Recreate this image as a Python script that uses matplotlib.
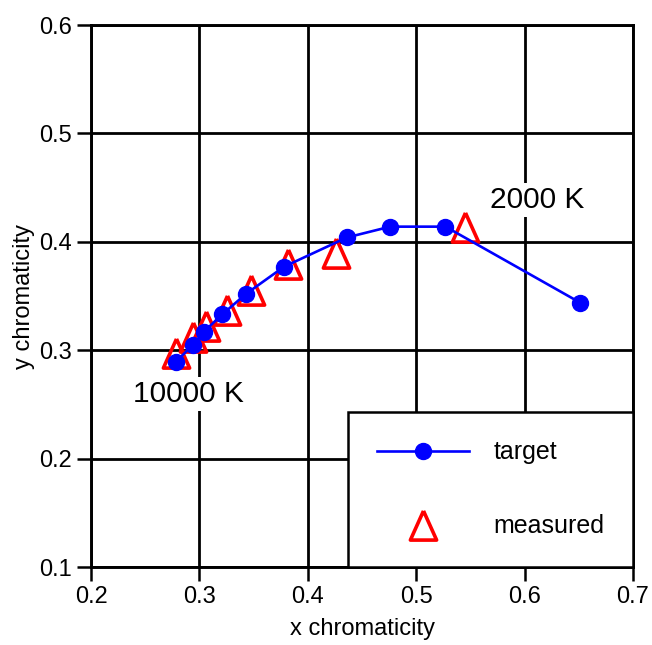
import matplotlib.pyplot as plt
from matplotlib.lines import Line2D

plt.rcParams['font.family'] = ['Liberation Sans', 'DejaVu Sans']

# target chromaticity (blackbody locus, 10000 K -> 2000 K)
target_x = [0.278, 0.294, 0.304, 0.321, 0.343, 0.378, 0.436, 0.476, 0.527, 0.651]
target_y = [0.289, 0.305, 0.317, 0.333, 0.352, 0.377, 0.404, 0.414, 0.414, 0.344]

# measured chromaticity
meas_x = [0.278, 0.294, 0.306, 0.325, 0.348, 0.382, 0.426, 0.545]
meas_y = [0.297, 0.312, 0.322, 0.337, 0.356, 0.380, 0.390, 0.414]

xticks = [0.2, 0.3, 0.4, 0.5, 0.6, 0.7]
yticks = [0.1, 0.2, 0.3, 0.4, 0.5, 0.6]

# tall open triangle, like a Greek delta
delta = [(0, 1), (-0.9, -1), (0.9, -1), (0, 1)]


def main():
    fig = plt.figure(figsize=(6.52, 6.45), dpi=100)
    ax = fig.add_axes([0.1396, 0.1209, 0.8313, 0.8403])

    ax.plot(meas_x, meas_y, linestyle='none', marker=delta, markersize=21,
            markerfacecolor='none', markeredgecolor='red', markeredgewidth=2.6,
            zorder=3)
    ax.plot(target_x, target_y, color='blue', linewidth=1.9, marker='o',
            markersize=11.5, zorder=4)

    ax.set_xlim(0.2, 0.7)
    ax.set_ylim(0.1, 0.6)
    ax.set_xticks(xticks)
    ax.set_yticks(yticks)
    ax.set_xticklabels([str(t) for t in xticks])
    ax.set_yticklabels([str(t) for t in yticks])
    ax.grid(True, color='black', linewidth=2.0, zorder=0)
    ax.set_axisbelow(True)
    for s in ax.spines.values():
        s.set_linewidth(2.1)
    ax.tick_params(direction='out', length=10, width=1.8, labelsize=17, pad=4)

    ax.set_xlabel('x chromaticity', fontsize=17, labelpad=7)
    ax.set_ylabel('y chromaticity', fontsize=17, labelpad=3)

    ax.text(0.6115, 0.4386, '2000 K', fontsize=21.5, ha='center', va='center',
            bbox=dict(facecolor='white', edgecolor='none', pad=2), zorder=2)
    ax.text(0.2895, 0.2596, '10000 K', fontsize=21.5, ha='center', va='center',
            bbox=dict(facecolor='white', edgecolor='none', pad=2), zorder=2)

    handles = [
        Line2D([], [], color='blue', linewidth=1.9, marker='o', markersize=11.5),
        Line2D([], [], linestyle='none', marker=delta, markersize=21,
               markerfacecolor='none', markeredgecolor='red', markeredgewidth=2.6),
    ]
    leg = ax.legend(handles, ['target', 'measured'], loc='lower right',
                    borderaxespad=0, fancybox=False, framealpha=1,
                    edgecolor='black', fontsize=18, handlelength=3.7,
                    handletextpad=0.96, labelspacing=2.0, borderpad=1.15)
    leg.get_frame().set_linewidth(1.8)
    leg.set_zorder(5)

    fig.savefig('out.png', dpi=100)


if __name__ == '__main__':
    main()
